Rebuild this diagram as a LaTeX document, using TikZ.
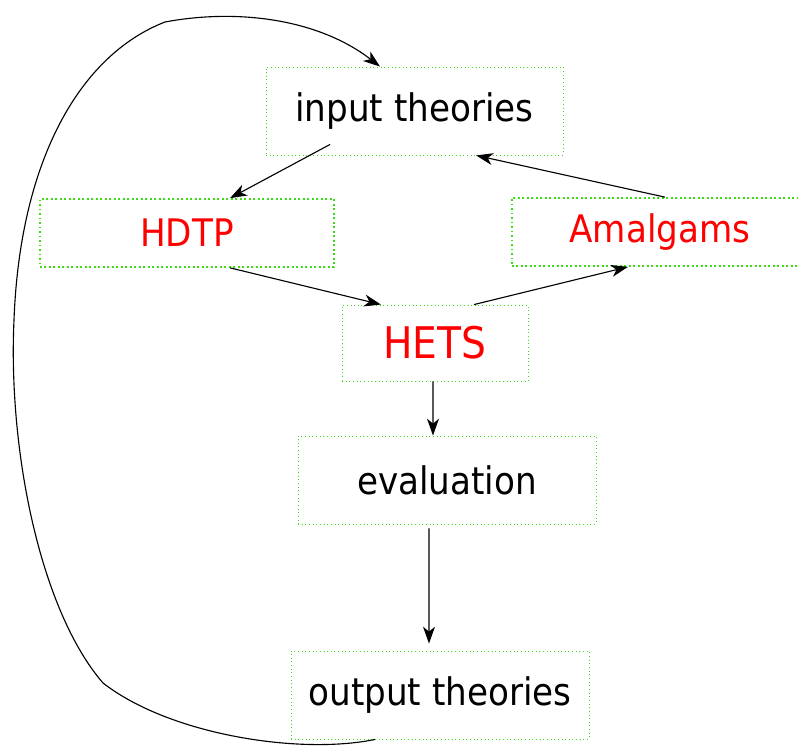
\documentclass[tikz,border=0pt]{standalone}
\usepackage{fontspec}
\setmainfont{DejaVu Sans Condensed}
\usepackage{xcolor}
\usetikzlibrary{arrows.meta}
\definecolor{dotgreen}{RGB}{60,220,20}

\begin{document}
\begin{tikzpicture}[x=0.025cm,y=-0.025cm,>={Stealth[length=12pt,width=8.5pt,inset=3.5pt]},
		box/.style={draw=dotgreen,dotted,line width=0.6pt,inner sep=0pt,font=\fontsize{27}{32}\selectfont},
		tool/.style={box,text=red,line width=1.2pt,font=\fontsize{27}{31}\selectfont}]
		\useasboundingbox (0,0) rectangle (798,749);
		\node[box,minimum width=7.425cm,minimum height=2.2cm] (In) at (414.5,111) {input theories};
		\node[tool,minimum width=7.35cm,minimum height=1.7cm] (HD) at (187,233) {HDTP};
		\node[tool,minimum width=7.4cm,minimum height=1.7cm] (Am) at (660,232) {Amalgams};
		\node[tool,line width=0.6pt,font=\fontsize{31}{36}\selectfont,minimum width=4.65cm,minimum height=1.9cm] (HE) at (435,343) {HETS};
		\node[box,minimum width=7.45cm,minimum height=2.2cm] (Ev) at (447,480) {evaluation};
		\node[box,minimum width=7.45cm,minimum height=2.2cm] (Out) at (440,695) {output theories};
		%
		\path[->,line width=0.8pt]
		([xshift=-2.11cm,yshift=0.275cm]In.south) edge ([xshift=1.075cm]HD.north)
		([xshift=0.125cm]Am.north) edge ([xshift=1.54cm]In.south)
		([xshift=1.075cm]HD.south) edge ([xshift=-1.35cm]HE.north)
		([xshift=0.975cm]HE.north) edge ([xshift=-0.8cm]Am.south)
		([xshift=-0.05cm]HE.south) edge ([xshift=-0.35cm]Ev.north)
		([xshift=-0.45cm,yshift=-0.1cm]Ev.south) edge ([xshift=-0.275cm,yshift=0.175cm]Out.north);
		% feedback loop
		\draw[->,line width=0.8pt] ([xshift=-1.625cm]Out.south)
		.. controls (300,755) and (170,735) .. (103,683)
		.. controls (40,610) and (8,450) .. (14,320)
		.. controls (20,160) and (80,55) .. (165,22)
		.. controls (240,8) and (320,20) .. ([xshift=-0.8625cm]In.north);
\end{tikzpicture}
\end{document}
